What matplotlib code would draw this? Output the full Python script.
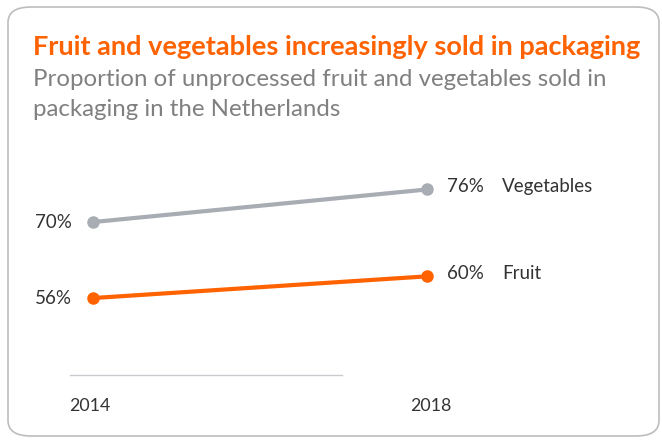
import matplotlib.pyplot as plt
from matplotlib.patches import FancyBboxPatch

years = [2014, 2018]
vegetables = [70, 76]
fruit = [56, 60]
series_names = ["Vegetables", "Fruit"]

orange = "#FF6200"
grey_line = "#A8ADB4"
text_dark = "#333333"

fig = plt.figure(figsize=(6.62, 4.41), dpi=100)

# rounded frame
box = FancyBboxPatch((8 / 662, 5 / 441), 651 / 662, 429 / 441,
                     boxstyle="round,pad=0,rounding_size=0.035",
                     transform=fig.transFigure, facecolor="white",
                     edgecolor="#BDBDBD", linewidth=1.2, zorder=-5)
fig.patches.append(box)

ax = fig.add_axes([0, 0, 1, 1], zorder=1)
ax.patch.set_alpha(0)
ax.set_xlim(2012.886, 2020.814)
ax.set_ylim(29.67, 110.9)
ax.axis("off")

for vals, color, name in [(vegetables, grey_line, series_names[0]), (fruit, orange, series_names[1])]:
    ax.plot(years, vals, color=color, linewidth=3, marker="o", markersize=8, solid_capstyle="round")
    ax.text(years[0] - 0.25, vals[0], f"{vals[0]}%", ha="right", va="center",
            fontsize=13.5, color=text_dark, family="Lato")
    ax.text(years[1] + 0.24, vals[1] + 0.6, f"{vals[1]}%", ha="left", va="center",
            fontsize=13.5, color=text_dark, family="Lato")
    ax.text(years[1] + 0.9, vals[1] + 0.6, name, ha="left", va="center",
            fontsize=13.5, color=text_dark, family="Lato")

# baseline
ax.plot([0.106, 0.517], [0.15, 0.15], transform=ax.transAxes, color="#C8CBD0", linewidth=1)

for yr in years:
    ax.text(yr + (0.05 if yr == 2018 else -0.04), 36.2, str(yr), ha="center", va="center",
            fontsize=12.8, color=text_dark, family="Lato")

fig.text(33 / 662, 1 - 47 / 441, "Fruit and vegetables increasingly sold in packaging",
         fontsize=19.5, fontweight="bold", color=orange, family="Lato", va="center")
fig.text(33 / 662, 1 - 80 / 441, "Proportion of unprocessed fruit and vegetables sold in",
         fontsize=17.3, color="#808080", family="Lato", va="center")
fig.text(33 / 662, 1 - 110 / 441, "packaging in the Netherlands",
         fontsize=17.3, color="#808080", family="Lato", va="center")

fig.savefig("out.png", dpi=100)
